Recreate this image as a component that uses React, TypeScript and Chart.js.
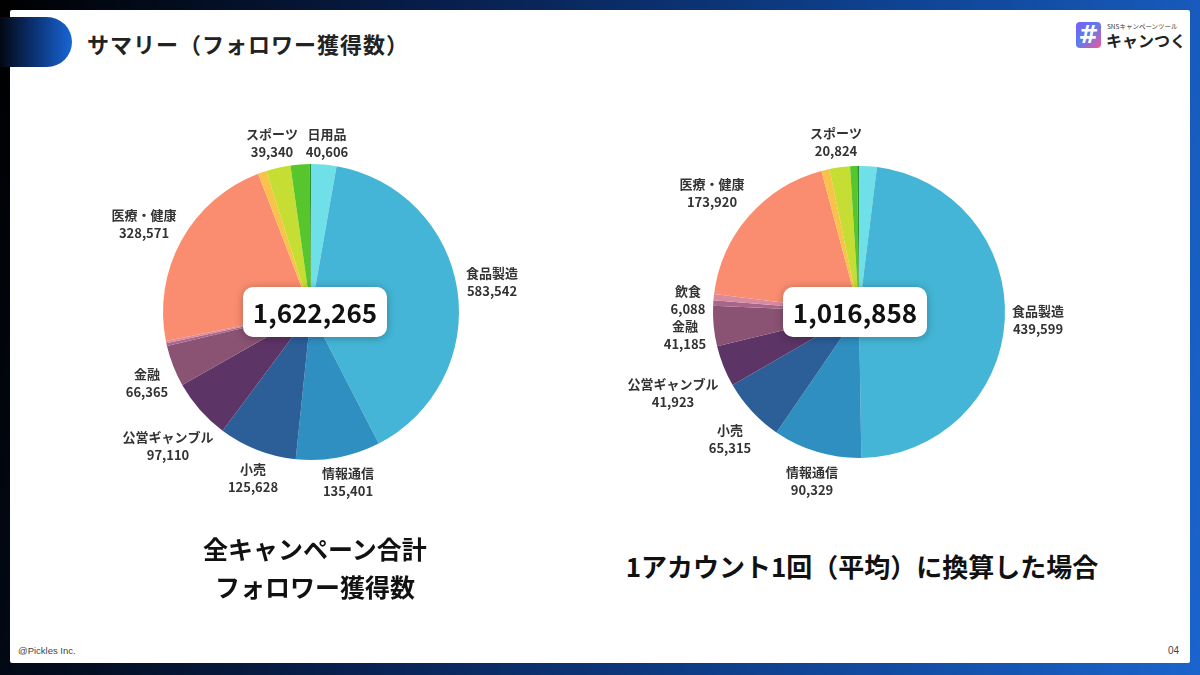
import React, { useEffect, useRef } from 'react';
import { Chart, registerables } from 'chart.js';

Chart.register(...registerables);

// ---- data (clockwise from 12 o'clock) ----
const categories = [
  '日用品', '食品製造', '情報通信', '小売', '公営ギャンブル', '金融',
  'その他A', '飲食', '医療・健康', 'その他B', 'スポーツ', 'その他C', 'その他D',
];
const leftValues = [40606, 583542, 135401, 125628, 97110, 66365, 4500, 3500, 328571, 13500, 39340, 30600, 2000];
const rightValues = [18100, 439599, 90329, 65315, 41923, 41185, 5500, 6088, 173920, 8300, 20824, 7200, 1800];
const sliceColors = [
  '#6FDFE8', '#44B5D6', '#2F8FC1', '#2C5E98', '#5C3466', '#8A5273',
  '#A8678A', '#D98A9F', '#FA8D6F', '#F9C24A', '#C6DE33', '#57C62C', '#2A8F3A',
];
const leftShown = ['日用品', '食品製造', '情報通信', '小売', '公営ギャンブル', '金融', '医療・健康', 'スポーツ'];
const rightShown = ['食品製造', '情報通信', '小売', '公営ギャンブル', '金融', '飲食', '医療・健康', 'スポーツ'];
const leftTotal = '1,622,265';
const rightTotal = '1,016,858';

// ---- label layout (offsets of label centre from pie centre) ----
const leftLabelOffsets: Record<string, [number, number]> = {
  'スポーツ': [-39, -178],
  '日用品': [16, -178],
  '食品製造': [181, -39],
  '情報通信': [37, 161],
  '小売': [-58, 157],
  '公営ギャンブル': [-143, 125],
  '金融': [-164, 62],
  '医療・健康': [-167, -97],
};
const rightLabelOffsets: Record<string, [number, number]> = {
  'スポーツ': [-23, -179],
  '医療・健康': [-147, -128],
  '飲食': [-171, -21],
  '金融': [-174, 14],
  '公営ギャンブル': [-186, 72],
  '小売': [-129, 118],
  '情報通信': [-47, 160],
  '食品製造': [179, -1],
};

const FONT = '"Noto Sans CJK JP", "Noto Sans", sans-serif';

type PieProps = {
  values: number[];
  shown: string[];
  offsets: Record<string, [number, number]>;
  total: string;
  boxShift: number;
  radius: number;
  left: number;
  top: number;
};

const W = 560;
const H = 460;

function PieChart({ values, shown, offsets, total, boxShift, radius, left, top }: PieProps) {
  const ref = useRef<HTMLCanvasElement | null>(null);
  useEffect(() => {
    if (!ref.current) return;
    const padX = W / 2 - radius;
    const padY = H / 2 - radius;
    const labelPlugin = {
      id: 'sliceLabels',
      afterDraw(chart: any) {
        const meta = chart.getDatasetMeta(0);
        const arc0 = meta.data[0];
        if (!arc0) return;
        const cx = arc0.x;
        const cy = arc0.y;
        const ctx = chart.ctx;
        ctx.save();
        // slice labels
        ctx.fillStyle = '#333333';
        ctx.textAlign = 'center';
        ctx.textBaseline = 'middle';
        ctx.font = `bold 13px ${FONT}`;
        categories.forEach((name, i) => {
          if (!shown.includes(name)) return;
          const off = offsets[name];
          if (!off) return;
          const x = cx + off[0];
          const y = cy + off[1];
          ctx.fillText(name, x, y);
          ctx.fillText(values[i].toLocaleString('en-US'), x, y + 18);
        });
        // centre total box
        const bw = 144;
        const bh = 50;
        const bx = cx + boxShift - bw / 2;
        const by = cy - bh / 2;
        ctx.shadowColor = 'rgba(0,0,0,0.28)';
        ctx.shadowBlur = 8;
        ctx.shadowOffsetY = 1;
        ctx.fillStyle = '#ffffff';
        ctx.beginPath();
        ctx.roundRect(bx, by, bw, bh, 10);
        ctx.fill();
        ctx.shadowColor = 'transparent';
        ctx.shadowBlur = 0;
        ctx.fillStyle = '#111111';
        ctx.font = `bold 26px ${FONT}`;
        ctx.fillText(total, cx + boxShift, cy + 1);
        ctx.restore();
      },
    };
    const chart = new Chart(ref.current, {
      type: 'pie',
      data: {
        labels: categories,
        datasets: [
          {
            data: values,
            backgroundColor: sliceColors,
            borderWidth: 0,
          },
        ],
      },
      options: {
        animation: false,
        responsive: false,
        devicePixelRatio: 1,
        layout: { padding: { left: padX, right: padX, top: padY, bottom: padY } },
        plugins: { legend: { display: false }, tooltip: { enabled: false } },
      },
      plugins: [labelPlugin],
    });
    return () => chart.destroy();
  }, [values, shown, offsets, total, boxShift, radius]);
  return (
    <canvas
      ref={ref}
      width={W}
      height={H}
      style={{ position: 'absolute', left, top, width: W, height: H }}
    />
  );
}

export default function App() {
  return (
    <div
      style={{
        position: 'fixed',
        left: 0,
        top: 0,
        width: 1200,
        height: 675,
        overflow: 'hidden',
        background: 'linear-gradient(100deg, #000000 0%, #08204f 35%, #0f4596 70%, #1b64cc 100%)',
        fontFamily: FONT,
      }}
    >
      {/* white panel */}
      <div
        style={{
          position: 'absolute',
          left: 10,
          top: 10,
          width: 1180,
          height: 653,
          background: '#ffffff',
          borderRadius: 2,
        }}
      />
      {/* header tab */}
      <div
        style={{
          position: 'absolute',
          left: 0,
          top: 17,
          width: 72,
          height: 50,
          borderRadius: '0 25px 25px 0',
          background: 'linear-gradient(90deg, #020812 0%, #0b2f6e 45%, #1766d6 100%)',
        }}
      />
      <div
        style={{
          position: 'absolute',
          left: 87,
          top: 27,
          fontSize: 22,
          fontWeight: 700,
          color: '#222222',
          lineHeight: '32px',
          letterSpacing: 1,
          whiteSpace: 'nowrap',
        }}
      >
        サマリー（フォロワー獲得数）
      </div>
      {/* logo */}
      <div
        style={{
          position: 'absolute',
          left: 1076,
          top: 22,
          width: 25,
          height: 26,
          borderRadius: 4,
          background: 'linear-gradient(135deg, #7b5cf5 0%, #5b7cf0 45%, #f0559a 100%)',
          color: '#ffffff',
          fontSize: 24,
          fontWeight: 700,
          lineHeight: '26px',
          textAlign: 'center',
          fontFamily: '"DejaVu Sans", sans-serif',
        }}
      >
        #
      </div>
      <div
        style={{
          position: 'absolute',
          left: 1107,
          top: 22,
          fontSize: 6.5,
          color: '#333333',
          whiteSpace: 'nowrap',
          lineHeight: '8px',
        }}
      >
        SNSキャンペーンツール
      </div>
      <div
        style={{
          position: 'absolute',
          left: 1106,
          top: 30,
          fontSize: 16,
          fontWeight: 700,
          color: '#222222',
          whiteSpace: 'nowrap',
          lineHeight: '20px',
        }}
      >
        キャンつく
      </div>

      <PieChart
        values={leftValues}
        shown={leftShown}
        offsets={leftLabelOffsets}
        total={leftTotal}
        boxShift={4}
        radius={148}
        left={311 - W / 2}
        top={312 - H / 2}
      />
      <PieChart
        values={rightValues}
        shown={rightShown}
        offsets={rightLabelOffsets}
        total={rightTotal}
        boxShift={-4}
        radius={146}
        left={859 - W / 2}
        top={312 - H / 2}
      />

      {/* bottom headings */}
      <div
        style={{
          position: 'absolute',
          left: 115,
          width: 400,
          top: 529,
          fontSize: 25,
          fontWeight: 700,
          color: '#111111',
          textAlign: 'center',
          lineHeight: '38px',
        }}
      >
        全キャンペーン合計
        <br />
        フォロワー獲得数
      </div>
      <div
        style={{
          position: 'absolute',
          left: 562,
          width: 600,
          top: 547,
          fontSize: 26,
          fontWeight: 700,
          color: '#111111',
          textAlign: 'center',
          lineHeight: '38px',
          whiteSpace: 'nowrap',
        }}
      >
        1アカウント1回（平均）に換算した場合
      </div>

      {/* footer */}
      <div
        style={{
          position: 'absolute',
          left: 18,
          top: 645,
          fontSize: 9.5,
          color: '#444444',
          fontFamily: '"Liberation Sans Narrow", "Liberation Sans", sans-serif',
          whiteSpace: 'nowrap',
        }}
      >
        @Pickles Inc.
      </div>
      <div
        style={{
          position: 'absolute',
          left: 1168,
          top: 645,
          fontSize: 10,
          color: '#444444',
          fontFamily: '"Liberation Sans Narrow", "Liberation Sans", sans-serif',
        }}
      >
        04
      </div>
    </div>
  );
}
